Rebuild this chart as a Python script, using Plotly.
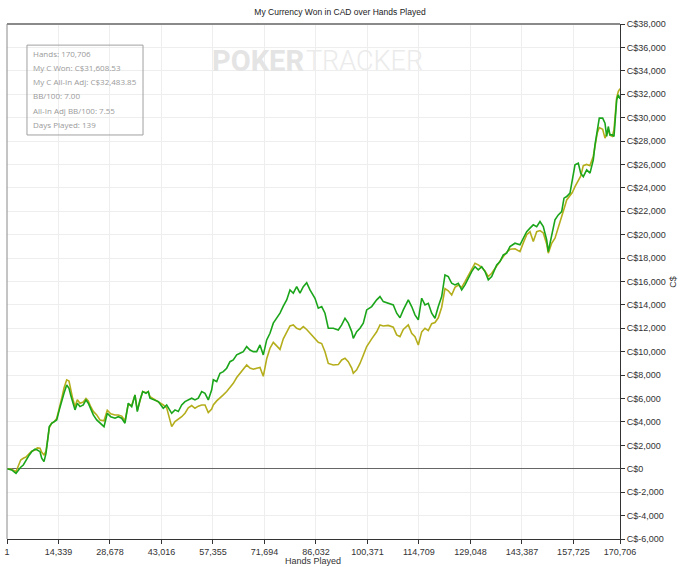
import plotly.graph_objects as go

hands = [
    1, 1309, 2506, 3147, 3815, 4539, 5291, 6210, 6878, 7797,
    8438, 9190, 9663, 10303, 10860, 11334, 11779, 12448, 13088, 13840,
    14564, 15232, 15873, 16625, 17265, 17738, 18295, 18936, 19577, 20328,
    21247, 21999, 22640, 23308, 24032, 24979, 25898, 27012, 27930, 28877,
    30075, 30994, 31941, 32859, 33778, 34725, 35644, 36285, 37037, 37788,
    38707, 39348, 39821, 41214, 42132, 43525, 44472, 45864, 46783, 47702,
    48649, 49568, 50486, 51433, 52352, 53271, 54218, 55137, 56056, 57003,
    57448, 58395, 59314, 60233, 61180, 62099, 63018, 63965, 64884, 65802,
    66749, 67668, 68587, 69534, 70453, 71372, 72319, 73238, 74156, 75103,
    76022, 76941, 77888, 78807, 79726, 80673, 81592, 82510, 83457, 84376,
    85769, 86688, 87635, 88553, 89472, 90864, 92257, 93204, 94123, 95042,
    95989, 96434, 97381, 98300, 99219, 100166, 101558, 102950, 103869, 104788,
    106181, 107573, 108520, 109439, 110358, 111750, 112697, 113616, 114535, 115482,
    116400, 117319, 118266, 119185, 120104, 121051, 121970, 122889, 123836, 124755,
    125673, 126620, 127539, 128458, 129405, 130324, 131243, 132190, 133109, 134027,
    134974, 136367, 137286, 138205, 139151, 140070, 141463, 142855, 143774, 144721,
    145640, 146559, 147506, 148425, 149343, 150290, 150736, 151683, 152602, 153520,
    154467, 155108, 155860, 156779, 157419, 158171, 159090, 159759, 160483, 161430,
    162348, 163267, 163740, 164381, 164938, 165884, 166525, 166998, 167444, 167917,
    168558, 169031, 169393, 169783, 170228, 170706,
]

won = [
    0, -100, -390, -100, 130, 320, 750, 1180, 1460, 1670,
    1600, 1460, 900, 610, 1320, 2460, 3600, 3890, 4030, 4170,
    5030, 5880, 6450, 7160, 6880, 6310, 5740, 5030, 5600, 5310,
    5450, 5880, 5600, 5030, 4600, 4170, 3890, 3600, 4740, 4450,
    4320, 4450, 4320, 3890, 5600, 5310, 6310, 4890, 5880, 6590,
    6450, 6590, 6030, 5880, 5740, 5170, 5450, 4740, 5030, 4890,
    5450, 5740, 5880, 6030, 5880, 6030, 6590, 6450, 5880, 6740,
    7600, 7450, 8160, 8300, 8590, 9150, 9300, 9730, 9870, 10010,
    10440, 10150, 10010, 10010, 10580, 9730, 11010, 11580, 12440, 12860,
    13300, 13900, 14430, 15280, 15000, 15560, 15000, 15560, 15900, 15280,
    14570, 13720, 13860, 13290, 12010, 12010, 11860, 12290, 12860, 12440,
    11720, 11150, 11720, 12010, 12440, 13570, 13860, 14430, 14710, 14280,
    14140, 14000, 13290, 12900, 13570, 14430, 13860, 13150, 12720, 14570,
    14000, 14140, 13290, 12860, 13860, 14710, 16560, 16420, 15850, 15710,
    15850, 15280, 15710, 16280, 16850, 17270, 16990, 17270, 16850, 16140,
    16420, 17420, 17700, 18270, 18420, 18980, 19270, 19130, 19700, 20260,
    20560, 20840, 20690, 21120, 20690, 19560, 18560, 19840, 21270, 21690,
    21970, 23120, 23260, 23550, 24680, 25970, 26110, 25260, 24960, 25540,
    25260, 26390, 27680, 28960, 29960, 29960, 29530, 28390, 29240, 28530,
    28530, 28390, 30100, 31520, 31950, 31608.53,
]

allin_adj = [
    0, -50, -250, 300, 750, 900, 1000, 1300, 1500, 1600,
    1780, 1750, 1400, 1180, 1500, 2500, 3500, 3900, 4000, 4300,
    5100, 6000, 6900, 7600, 7500, 6700, 6000, 5300, 5900, 5600,
    5700, 6000, 5800, 5300, 4900, 4600, 4170, 4100, 5000, 4700,
    4600, 4600, 4500, 4100, 5500, 5400, 6300, 5000, 5900, 6600,
    6500, 6600, 6160, 5900, 5700, 5450, 5200, 3600, 4030, 4200,
    4450, 4740, 5200, 5400, 5170, 5350, 5450, 5450, 4800, 5100,
    5450, 5800, 6100, 6310, 6600, 6950, 7300, 7800, 8150, 8450,
    8870, 8600, 8500, 8590, 8650, 7900, 9400, 10300, 10800, 10500,
    10200, 11100, 11700, 12200, 12290, 12000, 11900, 12150, 11900, 11580,
    11100, 10800, 10700, 10000, 9000, 8870, 8900, 9300, 9440, 9150,
    8600, 8160, 8450, 9000, 9700, 10440, 11100, 11700, 12290, 12200,
    12250, 12100, 11440, 11290, 11900, 12290, 11580, 11290, 10580, 11700,
    12000, 11800, 12400, 12500, 12900, 13800, 15400, 15200, 14850, 15500,
    15700, 15500, 15990, 16500, 17000, 17560, 17420, 17200, 16900, 16420,
    16700, 17350, 17800, 18130, 18500, 18750, 18800, 18550, 19300, 20000,
    20260, 19410, 20260, 20350, 20150, 19200, 18420, 19270, 19700, 20560,
    21620, 22200, 22970, 23350, 23600, 24110, 24700, 25000, 25900, 26000,
    25900, 26700, 27540, 28700, 29150, 29000, 28250, 28600, 28960, 28500,
    28400, 28960, 30200, 31700, 32230, 32483.85,
]

x_ticks = [1, 14339, 28678, 43016, 57355, 71694, 86032, 100371,
           114709, 129048, 143387, 157725, 170706]
y_ticks = list(range(-6000, 38001, 2000))
y_labels = [f"C${v:,}" for v in y_ticks]

stats_lines = [
    "Hands: 170,706",
    "My C Won: C$31,608.53",
    "My C All-In Adj: C$32,483.85",
    "BB/100: 7.00",
    "All-In Adj BB/100: 7.55",
    "Days Played: 139",
]

GREEN = "#1ba51b"
OLIVE = "#b5ae1c"
FONT = "Liberation Sans"

fig = go.Figure()
fig.add_trace(go.Scatter(x=hands, y=allin_adj, mode="lines", name="All-In Adj",
                         line=dict(color=OLIVE, width=1.6)))
fig.add_trace(go.Scatter(x=hands, y=won, mode="lines", name="Won",
                         line=dict(color=GREEN, width=1.6)))

fig.update_layout(
    width=680, height=567,
    margin=dict(l=7, r=60, t=24, b=28, autoexpand=False),
    paper_bgcolor="white", plot_bgcolor="white",
    showlegend=False,
    font=dict(family=FONT, size=9, color="#333"),
    title=dict(text="My Currency Won in CAD over Hands Played",
               x=0.5, xref="container", xanchor="center",
               y=1 - 12 / 567, yref="container", yanchor="middle",
               font=dict(family=FONT, size=8.5, color="#222")),
)

fig.update_xaxes(
    range=[1, 170706], tickvals=x_ticks, ticktext=[f"{v:,}" for v in x_ticks],
    showgrid=True, gridcolor="#eeeeee", gridwidth=1,
    showline=True, linecolor="#333", linewidth=1,
    ticks="outside", ticklen=4, tickcolor="#333",
    zeroline=False, automargin=False,
)
fig.update_yaxes(
    range=[-6000, 38000], side="right", tickvals=y_ticks, ticktext=y_labels,
    showgrid=True, gridcolor="#eeeeee", gridwidth=1,
    showline=True, linecolor="#333", linewidth=1,
    ticks="outside", ticklen=4, tickcolor="#333",
    zeroline=True, zerolinecolor="#666", zerolinewidth=1,
    automargin=False,
)

# titulos de ejes
fig.add_annotation(x=0.499, y=-0.0427, xref="paper", yref="paper", showarrow=False,
                   xanchor="center", yanchor="middle", text="Hands Played",
                   font=dict(size=9, color="#333"))
fig.add_annotation(x=1.086, y=0.499, xref="paper", yref="paper", showarrow=False,
                   xanchor="center", yanchor="middle", text="C$", textangle=-90,
                   font=dict(size=9, color="#333"))

# marco superior e izquierdo
fig.add_shape(type="line", xref="paper", yref="paper", x0=0, x1=1, y0=1, y1=1,
              line=dict(color="#8a8a8a", width=2))
fig.add_shape(type="line", xref="paper", yref="paper", x0=0, x1=0, y0=0, y1=1,
              line=dict(color="#8a8a8a", width=1))

# marca de agua
fig.add_annotation(x=0.331, y=0.928, xref="paper", yref="paper", xanchor="left",
                   yanchor="middle", showarrow=False,
                   text="<b>POKER</b>", font=dict(family="Roboto", size=29, color="#e4e4e4"))
fig.add_annotation(x=0.484, y=0.928, xref="paper", yref="paper", xanchor="left",
                   yanchor="middle", showarrow=False,
                   text="TRACKER", font=dict(family="Roboto", size=27, color="#ebebeb",
                                             weight=300))

# caja de estadisticas
fig.add_shape(type="rect", xref="paper", yref="paper",
              x0=0.0326, x1=0.2219, y0=0.7845, y1=0.959,
              line=dict(color="#a0a0a0", width=1), fillcolor="rgba(255,255,255,0)")
for i, line in enumerate(stats_lines):
    fig.add_annotation(x=0.039, y=0.9431 - i * 0.02757, xref="paper", yref="paper",
                       xanchor="left", yanchor="middle", showarrow=False,
                       text=line, font=dict(family="Open Sans", size=8, color="#9a9a9a"))

# quitar el margen del body para que la figura quede en (0, 0)
fig.write_html("out.html", config={"displayModeBar": False},
               post_script="document.body.style.margin='0px';")
